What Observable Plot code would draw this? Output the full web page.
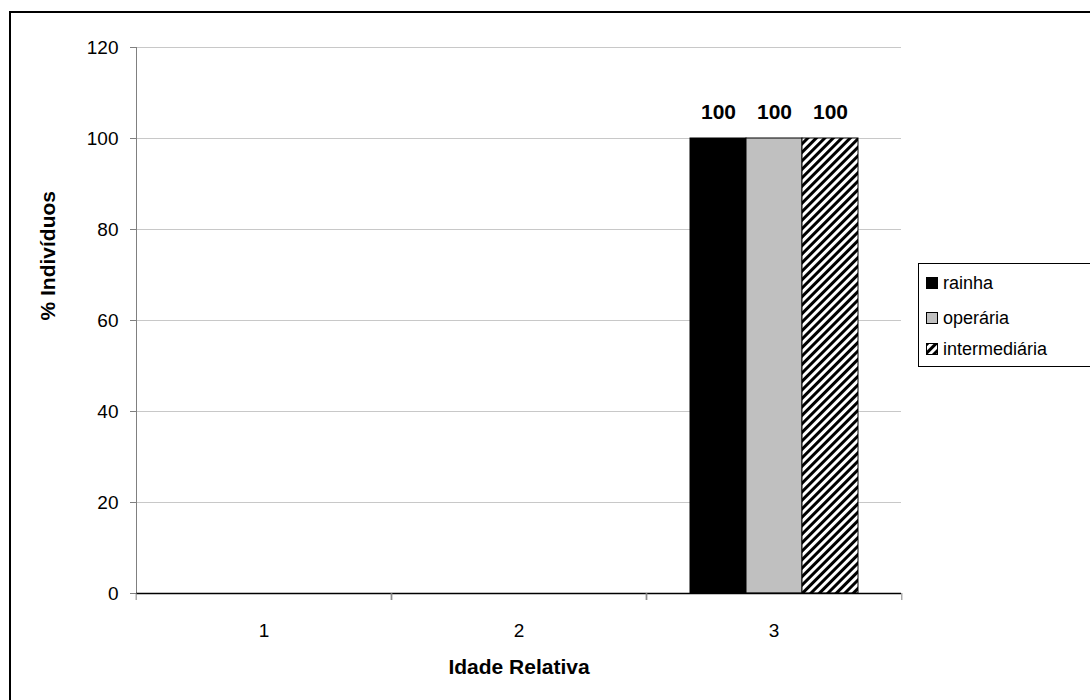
<!DOCTYPE html>
<html>
<head>
<meta charset="utf-8">
<script src="https://cdn.jsdelivr.net/npm/d3@7"></script>
<script src="https://cdn.jsdelivr.net/npm/@observablehq/plot@0.6"></script>
<style>
  html, body { margin: 0; padding: 0; background: #fff; overflow: hidden; }
  #wrap { position: relative; width: 1090px; height: 700px; overflow: hidden;
          font-family: "Liberation Sans", Arial, sans-serif; }
  #frame { position: absolute; left: 9px; top: 11px; width: 1300px; height: 900px;
           border: 2px solid #000; box-sizing: border-box; pointer-events: none; }
  #chart { position: absolute; left: 0; top: 0; }
  #legend { position: absolute; left: 918px; top: 263px; width: 220px; height: 104px;
            border: 1px solid #000; background: #fff; box-sizing: border-box; }
  .item { position: absolute; left: 7px; display: flex; align-items: center;
          font-size: 18px; line-height: 20px; color: #000; white-space: nowrap; }
  .item svg { margin-right: 5px; }
</style>
</head>
<body>
<svg width="0" height="0" style="position:absolute">
  <defs>
    <pattern id="hatch" patternUnits="userSpaceOnUse" width="6" height="6" patternTransform="rotate(45)">
      <rect width="6" height="6" fill="#fff"></rect>
      <rect width="3" height="6" fill="#000"></rect>
    </pattern>
  </defs>
</svg>
<div id="wrap">
  <div id="chart"></div>
  <div id="legend"></div>
  <div id="frame"></div>
</div>
<script>
// Relative age classes on the x axis
const idades = ["1", "2", "3"];
// Caste series
const series = ["rainha", "operária", "intermediária"];
// Percentage of individuals per age class (no individuals in classes 1 and 2)
const rainha = [null, null, 100];
const operaria = [null, null, 100];
const intermediaria = [null, null, 100];
// Y axis ticks
const yTicks = [0, 20, 40, 60, 80, 100, 120];
// Fill for each series
const fills = ["#000000", "#c0c0c0", "url(#hatch)"];

// One row per age class and series; empty classes keep a null value so every facet exists
const rows = [];
[rainha, operaria, intermediaria].forEach((vals, s) => {
  vals.forEach((v, i) => rows.push({idade: idades[i], serie: series[s], valor: v}));
});
const hasValue = d => d.valor != null;

const font = "'Liberation Sans', Arial, sans-serif";
const W = 1090, H = 700, ML = 135, MR = 188, MT = 47, MB = 107;
const halfBand = (W - ML - MR) / idades.length / 2;

const chart = Plot.plot({
  width: W,
  height: H,
  marginLeft: ML,
  marginRight: MR,
  marginTop: MT,
  marginBottom: MB,
  style: {fontFamily: font, fontSize: "19px", color: "#000", background: "transparent", overflow: "visible"},
  fx: {domain: idades, padding: 0, label: null},
  x: {domain: series, paddingInner: 0, paddingOuter: 0.763, axis: null},
  y: {domain: [0, 120], label: null},
  color: {domain: series, range: fills},
  marks: [
    Plot.gridY(yTicks.filter(t => t > 0), {stroke: "#c8c8c8", strokeOpacity: 1}),
    Plot.barY(rows, {filter: hasValue, fx: "idade", x: "serie", y: "valor", fill: "serie",
                     stroke: "#000", strokeWidth: 1}),
    Plot.text(rows, {filter: hasValue, fx: "idade", x: "serie", y: "valor", text: d => String(d.valor),
                     dy: -26, fontWeight: "bold", fontSize: 21}),
    Plot.frame({anchor: "left", facetAnchor: "left", stroke: "#808080"}),
    Plot.axisY(yTicks, {tickSize: 6, tickPadding: 12, stroke: "#808080", fill: "#000",
                        label: null, fontSize: 19}),
    Plot.ruleY([0], {stroke: "#000", strokeWidth: 1.5}),
    Plot.axisFx({anchor: "bottom", tickSize: 0, tickPadding: 30, label: null, fontSize: 19}),
    Plot.axisFx({anchor: "bottom", tickSize: 7, fill: "none", stroke: "#808080", dx: -halfBand}),
    Plot.axisFx({anchor: "bottom", tickSize: 7, fill: "none", stroke: "#808080", dx: halfBand}),
    Plot.text(["% Indivíduos"], {frameAnchor: "left", dx: -88, rotate: -90, fontWeight: "bold",
                                 fontSize: 21, facetAnchor: "left"}),
    Plot.text(["Idade Relativa"], {frameAnchor: "bottom", dy: 80, fontWeight: "bold",
                                   fontSize: 21, facet: "super"})
  ]
});
document.getElementById("chart").appendChild(chart);

// Legend entries
const legend = d3.select("#legend");
const rowY = [9, 44, 75];
series.forEach((s, i) => {
  const item = legend.append("div").attr("class", "item").style("top", rowY[i] + "px");
  const sw = item.append("svg").attr("width", 12).attr("height", 12);
  sw.append("rect").attr("x", 0.5).attr("y", 0.5).attr("width", 11).attr("height", 11)
    .attr("fill", fills[i]).attr("stroke", "#000");
  item.append("span").text(s);
});
</script>
</body>
</html>
